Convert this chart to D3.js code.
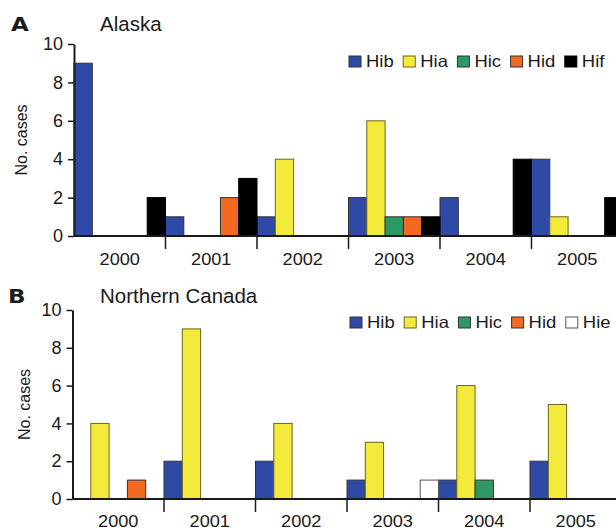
<!DOCTYPE html>
<html>
<head>
<meta charset="utf-8">
<script src="https://cdn.jsdelivr.net/npm/d3@7"></script>
<style>
  html, body { margin: 0; padding: 0; background: #fff; }
  svg { display: block; }
  text { font-family: "Liberation Sans", Arial, Helvetica, sans-serif; fill: #1a1a1a; }
</style>
</head>
<body>
<svg id="chart" width="616" height="530"></svg>
<script>
const years = ["2000", "2001", "2002", "2003", "2004", "2005"];
const yTicks = [0, 2, 4, 6, 8, 10];

// Panel A: Alaska
const alaskaSeries = ["Hib", "Hia", "Hic", "Hid", "Hif"];
const alaskaHib = [9, 1, 1, 2, 2, 4];
const alaskaHia = [0, 0, 4, 6, 0, 1];
const alaskaHic = [0, 0, 0, 1, 0, 0];
const alaskaHid = [0, 2, 0, 1, 0, 0];
const alaskaHif = [2, 3, 0, 1, 4, 2];

// Panel B: Northern Canada
const canadaSeries = ["Hib", "Hia", "Hic", "Hid", "Hie"];
const canadaHib = [0, 2, 2, 1, 1, 2];
const canadaHia = [4, 9, 4, 3, 6, 5];
const canadaHic = [0, 0, 0, 0, 1, 0];
const canadaHid = [1, 0, 0, 0, 0, 0];
const canadaHie = [0, 0, 0, 1, 0, 0];

const colors = { Hib: "#2f4aa6", Hia: "#f3ea3c", Hic: "#2f9764", Hid: "#f26a22", Hif: "#000000", Hie: "#ffffff" };
const strokes = { Hib: "#333", Hia: "#6a6420", Hic: "#333", Hid: "#333", Hif: "#000", Hie: "#555" };

const svg = d3.select("#chart");

function drawPanel(opt) {
  const g = svg.append("g");
  const x = d3.scaleBand().domain(opt.years).range([opt.x0, opt.x0 + opt.groupW * opt.years.length]).padding(0);
  const xs = d3.scaleBand().domain(opt.series).range([0, x.bandwidth()]).padding(0);
  const y = d3.scaleLinear().domain([0, 10]).range([opt.yBase, opt.yTop]);

  // bars
  opt.series.forEach((s, si) => {
    const vals = opt.values[si];
    g.selectAll(null).data(opt.years.map((yr, i) => ({ yr, v: vals[i] })).filter(d => d.v > 0))
      .enter().append("rect")
      .attr("x", d => x(d.yr) + xs(s))
      .attr("y", d => y(d.v))
      .attr("width", xs.bandwidth())
      .attr("height", d => y(0) - y(d.v))
      .attr("fill", colors[s])
      .attr("stroke", strokes[s])
      .attr("stroke-width", 1);
  });

  // y axis
  const yAxis = d3.axisLeft(y).tickValues(yTicks).tickSize(6).tickPadding(5).tickSizeOuter(0);
  const ya = g.append("g").attr("transform", `translate(${opt.x0},0)`).call(yAxis);
  ya.select(".domain").attr("stroke", "#1a1a1a").attr("stroke-width", 2);
  ya.selectAll(".tick line").attr("stroke", "#1a1a1a").attr("stroke-width", 1.5);
  ya.selectAll(".tick text").attr("font-size", 18).attr("fill", "#1a1a1a").style("font-family", "Liberation Sans, Arial, sans-serif");

  // x baseline
  g.append("line").attr("x1", opt.x0).attr("x2", x.range()[1]).attr("y1", opt.yBase).attr("y2", opt.yBase)
    .attr("stroke", "#1a1a1a").attr("stroke-width", 2);
  // x ticks at group boundaries
  g.selectAll(null).data(opt.years.slice(1)).enter().append("line")
    .attr("x1", d => x(d)).attr("x2", d => x(d))
    .attr("y1", opt.yBase).attr("y2", opt.yBase + 13)
    .attr("stroke", "#1a1a1a").attr("stroke-width", 1.5);
  // x labels
  g.selectAll(null).data(opt.years).enter().append("text")
    .attr("transform", d => `translate(${x(d) + x.bandwidth() / 2},${opt.labelY}) scale(1.07,1)`)
    .attr("text-anchor", "middle")
    .attr("font-size", 17)
    .text(d => d);

  // y axis title
  g.append("text")
    .attr("transform", `translate(${opt.yTitleX},${(opt.yBase + opt.yTop) / 2}) rotate(-90)`)
    .attr("text-anchor", "middle")
    .attr("font-size", 16)
    .text("No. cases");

  // panel letter and title
  g.append("text").attr("transform", `translate(${opt.letterX},${opt.titleY}) scale(1.15,1)`).attr("font-size", 20)
    .attr("font-weight", "900").style("font-family", "'DejaVu Sans', Arial, sans-serif").text(opt.letter);
  g.append("text").attr("x", 100).attr("y", opt.titleY).attr("font-size", 20.5).text(opt.title);

  // legend
  const lg = g.append("g").attr("transform", `translate(${opt.legendX},${opt.legendY})`);
  let cx = 0;
  const sx = 1.12;
  opt.series.forEach(s => {
    lg.append("rect").attr("x", cx).attr("y", -11).attr("width", 12).attr("height", 11)
      .attr("fill", colors[s]).attr("stroke", strokes[s]).attr("stroke-width", 1);
    const t = lg.append("text").attr("transform", `translate(${cx + 17},0) scale(${sx},1)`).attr("font-size", 16.5).text(s);
    cx += 17 + t.node().getComputedTextLength() * sx + 9.5;
  });
}

drawPanel({
  years, series: alaskaSeries,
  values: [alaskaHib, alaskaHia, alaskaHic, alaskaHid, alaskaHif],
  x0: 74, groupW: 91.5, yBase: 236, yTop: 44, labelY: 265,
  yTitleX: 27, letter: "A", letterX: 11, title: "Alaska", titleY: 31,
  legendX: 349, legendY: 67
});

drawPanel({
  years, series: canadaSeries,
  values: [canadaHib, canadaHia, canadaHic, canadaHid, canadaHie],
  x0: 72.5, groupW: 91.5, yBase: 499, yTop: 310, labelY: 527,
  yTitleX: 30, letter: "B", letterX: 8, title: "Northern Canada", titleY: 303,
  legendX: 350, legendY: 328
});
</script>
</body>
</html>
